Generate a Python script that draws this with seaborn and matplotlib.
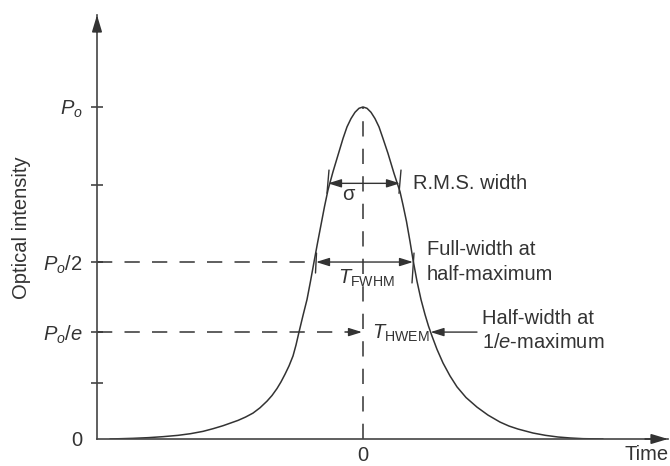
import matplotlib
matplotlib.use("Agg")
import matplotlib.pyplot as plt
import seaborn as sns
import pandas as pd

# ---- data ----
time = [-5.06, -4.6, -4.3, -4.0, -3.7, -3.45, -3.2, -3.0, -2.8, -2.5, -2.35, -2.2,
        -2.06, -1.92, -1.82, -1.72, -1.64, -1.56, -1.48, -1.4, -1.34, -1.28, -1.2,
        -1.12, -1.05, -0.98, -0.91, -0.84, -0.77, -0.7, -0.6, -0.48, -0.4, -0.32,
        -0.24, -0.16, -0.08, 0.0,
        0.08, 0.16, 0.24, 0.32, 0.4, 0.5, 0.62, 0.74, 0.8, 0.87, 0.94, 1.0, 1.08,
        1.16, 1.24, 1.31, 1.38, 1.48, 1.6, 1.74, 1.88, 2.06, 2.28, 2.5, 2.74, 2.92,
        3.1, 3.4, 3.65, 3.9, 4.15, 4.4, 4.8]
intensity = [0.0, 0.002, 0.004, 0.007, 0.011, 0.016, 0.023, 0.031, 0.04, 0.056, 0.066, 0.078,
             0.094, 0.114, 0.131, 0.152, 0.172, 0.195, 0.22, 0.25, 0.283, 0.322, 0.372,
             0.42, 0.475, 0.533, 0.59, 0.645, 0.70, 0.75, 0.805, 0.865, 0.905, 0.94,
             0.965, 0.984, 0.996, 1.0,
             0.996, 0.984, 0.965, 0.94, 0.905, 0.86, 0.8, 0.745, 0.705, 0.655, 0.595, 0.54, 0.475,
             0.42, 0.375, 0.34, 0.31, 0.27, 0.229, 0.19, 0.157, 0.125, 0.096, 0.072, 0.051, 0.039,
             0.03, 0.018, 0.011, 0.006, 0.003, 0.001, 0.0]

ytick_values = [0.0, 0.169, 0.322, 0.533, 0.765, 1.0]
ytick_labels = ["0", "", r"$P_o/e$", r"$P_o/2$", "", r"$P_o$"]
xtick_values = [0.0]
xtick_labels = ["0"]

peak_level = 1.0
half_level = 0.533
e_level = 0.322
rms_level = 0.77
rms_edges = [-0.70, 0.74]
fwhm_edges = [-0.94, 1.0]
hwem_edge = 1.35

# ---- style ----
sns.set_theme(style="white")
plt.rcParams["font.family"] = ["Liberation Sans", "DejaVu Sans"]
plt.rcParams["mathtext.fontset"] = "custom"
plt.rcParams["mathtext.rm"] = "Liberation Sans"
plt.rcParams["mathtext.it"] = "Liberation Sans:italic"
plt.rcParams["mathtext.bf"] = "Liberation Sans:bold"

ink = "#333333"
FS = 14.5

fig = plt.figure(figsize=(6.7, 4.66), dpi=100)
ax = fig.add_axes([97 / 670, 27 / 466, 571 / 670, 424 / 466])

df = pd.DataFrame({"Time": time, "Intensity": intensity})
sns.lineplot(data=df, x="Time", y="Intensity", ax=ax, color=ink, lw=1.1, sort=True)

ax.set_xlim(-5.32, 6.1)
ax.set_ylim(0, 1.277)

# axes spines with arrows
for s in ["top", "right"]:
    ax.spines[s].set_visible(False)
for s in ["left", "bottom"]:
    ax.spines[s].set_color("#444444")
    ax.spines[s].set_linewidth(1.2)
ax.annotate("", xy=(0, 1.0), xytext=(0, 0.96), xycoords="axes fraction",
            arrowprops=dict(arrowstyle="-|>,head_length=1.0,head_width=0.3",
                            mutation_scale=10, color="#333333", lw=1.2,
                            shrinkA=0, shrinkB=0))
ax.annotate("", xy=(1.0, 0), xytext=(0.96, 0), xycoords="axes fraction",
            arrowprops=dict(arrowstyle="-|>,head_length=1.0,head_width=0.3",
                            mutation_scale=10, color="#333333", lw=1.2,
                            shrinkA=0, shrinkB=0))

ax.set_yticks(ytick_values)
ax.set_yticklabels(ytick_labels, fontsize=FS, color=ink)
ax.tick_params(axis="y", direction="inout", length=9, width=1.2, color="#444444", pad=6, left=True)
ax.yaxis.get_major_ticks()[0].tick1line.set_visible(False)
ax.set_xticks(xtick_values)
ax.set_xticklabels(xtick_labels, fontsize=FS, color=ink)
ax.tick_params(axis="x", length=0, pad=5)
ax.set_xlabel("")
ax.set_ylabel("")

fig.text(22 / 670, 1 - 228 / 466, "Optical intensity", rotation=90, ha="center",
         va="center", fontsize=FS, color=ink)
fig.text(669 / 670, 1 - 455 / 466, "Time", ha="right", va="center", fontsize=FS, color=ink)

dash = (0, (10, 8))
# vertical centre dashed line
ax.plot([0, 0], [0, peak_level], color=ink, lw=1.1, ls=dash)
# P/2 dashed
ax.plot([-5.32, fwhm_edges[0]], [half_level, half_level], color=ink, lw=1.1, ls=dash)
# P/e dashed
ax.plot([-5.32, -0.2], [e_level, e_level], color=ink, lw=1.1, ls=dash)

arrow_kw = dict(arrowstyle="-|>,head_length=0.8,head_width=0.25", mutation_scale=10,
                color=ink, lw=1.0, shrinkA=0, shrinkB=0)
both_kw = dict(arrowstyle="<|-|>,head_length=0.8,head_width=0.25", mutation_scale=10,
               color=ink, lw=1.0, shrinkA=0, shrinkB=0)

# RMS width
for xe in rms_edges:
    ax.plot([xe - 0.02, xe + 0.02], [0.74, 0.81], color=ink, lw=1.0)
ax.annotate("", xy=(rms_edges[0], rms_level), xytext=(rms_edges[1], rms_level),
            arrowprops=both_kw)
ax.text(-0.3, 0.735, "σ", ha="center", va="center", fontsize=FS, color=ink)
ax.text(1.0, rms_level, "R.M.S. width", ha="left", va="center", fontsize=FS, color=ink)

# FWHM
ax.plot([fwhm_edges[0] - 0.01, fwhm_edges[0] + 0.01], [0.50, 0.56], color=ink, lw=1.0)
ax.plot([fwhm_edges[1] - 0.02, fwhm_edges[1] + 0.02], [0.47, 0.56], color=ink, lw=1.0)
ax.annotate("", xy=(fwhm_edges[0], half_level), xytext=(fwhm_edges[1], half_level),
            arrowprops=both_kw)
ax.text(0.06, 0.485, r"$\mathit{T}_{\mathrm{FWHM}}$", ha="center", va="center",
        fontsize=FS, color=ink)
ax.text(1.28, half_level, "Full-width at\nhalf-maximum", ha="left", va="center",
        fontsize=FS, color=ink, linespacing=1.4)

# HWEM
ax.annotate("", xy=(-0.02, e_level), xytext=(-0.3, e_level), arrowprops=arrow_kw)
ax.annotate("", xy=(hwem_edge, e_level), xytext=(2.28, e_level), arrowprops=arrow_kw)
ax.text(0.18, 0.318, r"$\mathit{T}_{\mathrm{HWEM}}$", ha="left", va="center",
        fontsize=FS, color=ink)
ax.text(2.38, 0.327, "Half-width at\n1/$e$-maximum", ha="left", va="center",
        fontsize=FS, color=ink, linespacing=1.3)

fig.savefig("out.png", dpi=100)
